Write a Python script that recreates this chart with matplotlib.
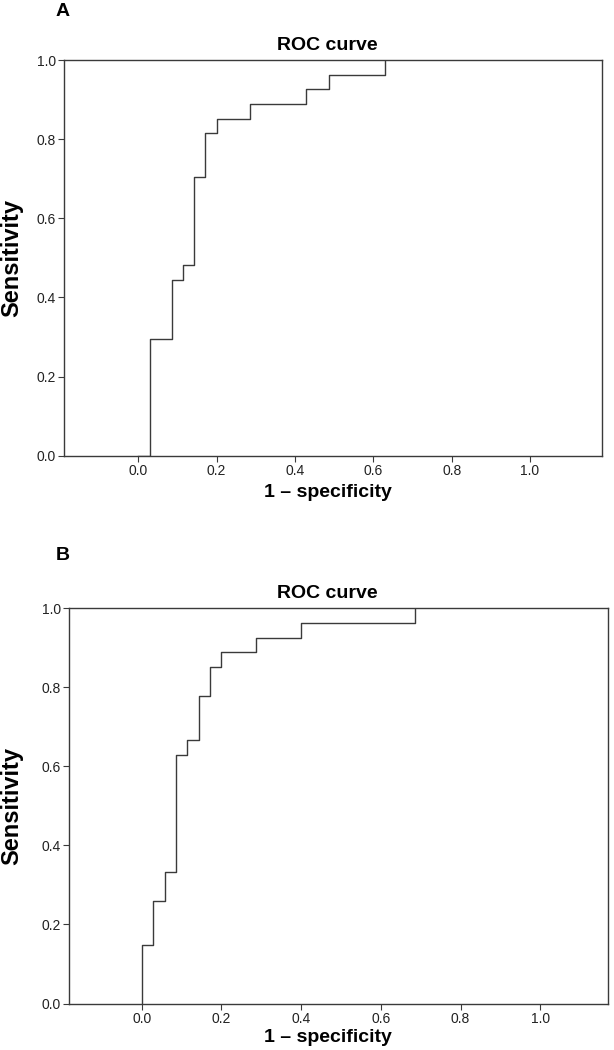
import matplotlib
matplotlib.use("Agg")
import matplotlib.pyplot as plt

# ROC step points (1 - specificity, sensitivity)
fpr_a = [0.0, 0.029, 0.029, 0.086, 0.114, 0.143, 0.171, 0.200, 0.286, 0.429, 0.486, 0.629]
tpr_a = [0.0, 0.0, 0.296, 0.444, 0.481, 0.704, 0.815, 0.852, 0.889, 0.926, 0.963, 1.0]

fpr_b = [0.0, 0.0, 0.029, 0.057, 0.086, 0.114, 0.143, 0.171, 0.200, 0.286, 0.400, 0.686]
tpr_b = [0.0, 0.148, 0.259, 0.333, 0.630, 0.667, 0.778, 0.852, 0.889, 0.926, 0.963, 1.0]

ticks = [0.0, 0.2, 0.4, 0.6, 0.8, 1.0]
tick_labels = ["0.0", "0.2", "0.4", "0.6", "0.8", "1.0"]

plt.rcParams["font.family"] = ["Liberation Sans", "DejaVu Sans"]

line_col = "#3a3a3a"
W, H = 614, 1050

fig = plt.figure(figsize=(W / 100, H / 100), dpi=100)


def draw_panel(rect, xlim, fpr, tpr, letter, letter_y, title_y, xlabel_y):
    ax = fig.add_axes(rect)
    ax.step(fpr, tpr, where="post", color=line_col, linewidth=1.0)
    ax.set_xlim(*xlim)
    ax.set_ylim(0, 1)
    ax.set_xticks(ticks)
    ax.set_xticklabels(tick_labels)
    ax.set_yticks(ticks)
    ax.set_yticklabels(tick_labels)
    for s in ax.spines.values():
        s.set_color(line_col)
        s.set_linewidth(1.0)
    ax.tick_params(direction="out", length=4, width=0.8, color=line_col,
                   labelsize=10, labelcolor="#222222", pad=2)
    # y label, x label, title and panel letter
    yc = rect[1] + rect[3] / 2
    fig.text(12 / W, yc, "Sensitivity", rotation=90, ha="center", va="center",
             fontsize=17, fontweight="bold")
    fig.text(327.5 / W, 1 - xlabel_y / H, "1 \u2013 specificity", ha="center",
             va="center", fontsize=14, fontweight="bold")
    fig.text(327.5 / W, 1 - title_y / H, "ROC curve", ha="center", va="center",
             fontsize=14, fontweight="bold")
    fig.text(63 / W, 1 - letter_y / H, letter, ha="center", va="center",
             fontsize=14, fontweight="bold")
    return ax


draw_panel([64.3 / W, 1 - 455.7 / H, 537.4 / W, 395.7 / H], (-0.189, 1.183),
           fpr_a, tpr_a, "A", 11, 45, 492)
draw_panel([69.3 / W, 1 - 1003.5 / H, 539.0 / W, 395.2 / H], (-0.182, 1.171),
           fpr_b, tpr_b, "B", 556, 594, 1037)

fig.savefig("out.png", dpi=100)
